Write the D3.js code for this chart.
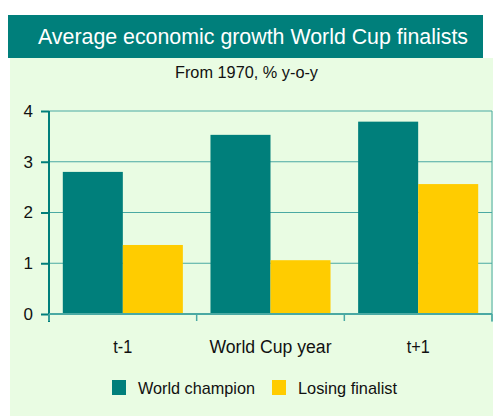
<!DOCTYPE html>
<html>
<head>
<meta charset="utf-8">
<script src="https://cdn.jsdelivr.net/npm/d3@7"></script>
<style>
  body { margin: 0; background: #fff; }
  svg { display: block; font-family: "Liberation Sans Narrow", "Arial Narrow", "Liberation Sans", sans-serif; }
</style>
</head>
<body>
<div id="chart"></div>
<script>
// chart data
const categories = ['t-1', 'World Cup year', 't+1'];
const seriesNames = ['World champion', 'Losing finalist'];
const champion = [2.8, 3.53, 3.79];
const loser = [1.36, 1.06, 2.56];
const yTicks = [0, 1, 2, 3, 4];

const teal = '#007f7b';
const yellow = '#ffcc00';
const bg = '#e9fce3';
const grid = '#4aa9a3';

// the reference uses a condensed face, squeeze text to its measured widths
const labelWidths = { 't-1': 19, 'World Cup year': 122, 't+1': 23 };
const legendWidths = [117, 99];

const width = 493, height = 417;
const margin = { left: 49, right: 0, top: 111, bottom: 103 };

const svg = d3.select('#chart')
	.append('svg')
	.attr('width', width)
	.attr('height', height);

// background panel and title band
svg.append('rect')
	.attr('x', 10).attr('y', 58)
	.attr('width', width - 10).attr('height', 358)
	.attr('fill', bg);
svg.append('rect')
	.attr('x', 8).attr('y', 15)
	.attr('width', 475).attr('height', 43)
	.attr('fill', teal);
svg.append('text')
	.attr('x', 38).attr('y', 44)
	.attr('fill', '#fff')
	.attr('textLength', 430)
	.attr('lengthAdjust', 'spacingAndGlyphs')
	.style('font-size', '22px')
	.text('Average economic growth World Cup finalists');
svg.append('text')
	.attr('x', 175).attr('y', 78)
	.attr('fill', '#111')
	.attr('textLength', 143)
	.attr('lengthAdjust', 'spacingAndGlyphs')
	.style('font-size', '16px')
	.text('From 1970, % y-o-y');

const plotRight = 492;
const plotBottom = 314;

const x = d3.scaleBand()
	.domain(categories)
	.range([margin.left, plotRight])
	.paddingInner(0)
	.paddingOuter(0);

const xInner = d3.scaleBand()
	.domain(seriesNames)
	.range([0, x.bandwidth()])
	.paddingOuter(0.23)
	.paddingInner(0);

const y = d3.scaleLinear()
	.domain([0, 4])
	.range([plotBottom, margin.top]);

// gridlines
svg.append('g')
	.selectAll('line')
	.data(yTicks.filter(d => d > 0))
	.enter()
	.append('line')
	.attr('x1', margin.left).attr('x2', plotRight)
	.attr('y1', d => y(d)).attr('y2', d => y(d))
	.attr('stroke', grid)
	.attr('stroke-width', 1);

// right frame line
svg.append('line')
	.attr('x1', plotRight).attr('x2', plotRight)
	.attr('y1', y(4)).attr('y2', plotBottom + 8)
	.attr('stroke', grid);

// bars
const groups = svg.append('g')
	.selectAll('g')
	.data(categories)
	.enter()
	.append('g')
	.attr('transform', d => `translate(${x(d)},0)`);

groups.selectAll('rect')
	.data((d, i) => [
		{ key: seriesNames[0], value: champion[i], color: teal },
		{ key: seriesNames[1], value: loser[i], color: yellow }
	])
	.enter()
	.append('rect')
	.attr('x', d => xInner(d.key))
	.attr('width', xInner.bandwidth())
	.attr('y', d => y(d.value))
	.attr('height', d => y(0) - y(d.value))
	.attr('fill', d => d.color);

// y axis
const yAxis = svg.append('g')
	.attr('transform', `translate(${margin.left},0)`)
	.call(d3.axisLeft(y).tickValues(yTicks).tickSize(8).tickPadding(8).tickFormat(d3.format('d')));
yAxis.select('.domain').attr('stroke', teal).attr('stroke-width', 2).attr('d', `M0,${y(4)}V${plotBottom + 8}`);
yAxis.selectAll('.tick line').attr('stroke', teal).attr('stroke-width', 2);
yAxis.selectAll('.tick text')
	.attr('fill', '#111')
	.style('font-size', '17px')
	.style('font-family', '"Liberation Sans Narrow", "Arial Narrow", "Liberation Sans", sans-serif');

// x axis
const xAxis = svg.append('g')
	.attr('transform', `translate(0,${plotBottom})`);
xAxis.append('line')
	.attr('x1', margin.left).attr('x2', plotRight)
	.attr('stroke', grid).attr('stroke-width', 2);
xAxis.selectAll('.xtick')
	.data(categories.concat(['end']))
	.enter()
	.append('line')
	.attr('class', 'xtick')
	.attr('x1', (d, i) => margin.left + i * x.bandwidth())
	.attr('x2', (d, i) => margin.left + i * x.bandwidth())
	.attr('y1', 0).attr('y2', 7)
	.attr('stroke', grid).attr('stroke-width', 1.5);
xAxis.selectAll('.xlabel')
	.data(categories)
	.enter()
	.append('text')
	.attr('class', 'xlabel')
	.attr('x', d => x(d) + x.bandwidth() / 2 - labelWidths[d] / 2)
	.attr('y', 39)
	.attr('fill', '#111')
	.attr('textLength', d => labelWidths[d])
	.attr('lengthAdjust', 'spacingAndGlyphs')
	.style('font-size', '18px')
	.text(d => d);

// legend
const legendX = [112, 272];
const legend = svg.append('g')
	.selectAll('g')
	.data(seriesNames)
	.enter()
	.append('g')
	.attr('transform', (d, i) => `translate(${legendX[i]},380)`);
legend.append('rect')
	.attr('width', 14).attr('height', 15)
	.attr('fill', (d, i) => (i === 0 ? teal : yellow));
legend.append('text')
	.attr('x', 26).attr('y', 14)
	.attr('fill', '#111')
	.attr('textLength', (d, i) => legendWidths[i])
	.attr('lengthAdjust', 'spacingAndGlyphs')
	.style('font-size', '17px')
	.text(d => d);
</script>
</body>
</html>
